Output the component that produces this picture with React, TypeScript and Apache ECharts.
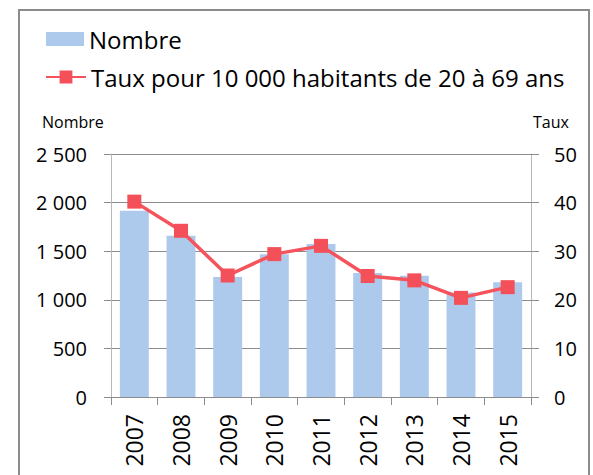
import React, { useEffect, useRef } from "react";
import * as echarts from "echarts";

const years = ["2007", "2008", "2009", "2010", "2011", "2012", "2013", "2014", "2015"];
const nombre = [1915, 1660, 1235, 1468, 1574, 1276, 1248, 1075, 1180];
const taux = [40.2, 34.2, 25.0, 29.4, 31.1, 24.9, 24.0, 20.4, 22.6];
const leftTicks = [0, 500, 1000, 1500, 2000, 2500];
const rightTicks = [0, 10, 20, 30, 40, 50];
const seriesNames = ["Nombre", "Taux pour 10 000 habitants de 20 à 69 ans"];
const axisNames = ["Nombre", "Taux"];

const FONT = "Open Sans";

function fmtThousands(v: number): string {
  const s = String(Math.round(v));
  return s.replace(/\B(?=(\d{3})+(?!\d))/g, " ");
}

export default function App() {
  const ref = useRef<HTMLDivElement>(null);
  useEffect(() => {
    if (!ref.current) return;
    const chart = echarts.init(ref.current, undefined, { renderer: "svg" });
    const legendText = {
      fontSize: 24,
      lineHeight: 26,
      color: "#000",
      fontFamily: FONT,
    };
    chart.setOption({
      animation: false,
      backgroundColor: "#ffffff",
      textStyle: { fontFamily: FONT },
      graphic: [
        {
          type: "rect",
          shape: { x: 19, y: 10, width: 570, height: 480 },
          style: { fill: "none", stroke: "#8c8c8c", lineWidth: 2 },
          z: 0,
        },
        {
          type: "text",
          left: 42,
          top: 114,
          style: { text: axisNames[0], fontSize: 16, fontFamily: FONT, fill: "#000" },
        },
        {
          type: "text",
          left: 533,
          top: 114,
          style: { text: axisNames[1], fontSize: 16, fontFamily: FONT, fill: "#000" },
        },
      ],
      legend: [
        {
          orient: "vertical",
          left: 46,
          top: 26,
          padding: 0,
          icon: "rect",
          itemWidth: 38,
          itemHeight: 14,
          itemGap: 6,
          textStyle: legendText,
          data: [seriesNames[0]],
        },
        {
          orient: "vertical",
          left: 45,
          top: 64,
          padding: 0,
          itemWidth: 40,
          itemHeight: 16,
          itemGap: 6,
          textStyle: legendText,
          data: [seriesNames[1]],
        },
      ],
      grid: {
        left: 111,
        right: 62,
        top: 154,
        bottom: 78,
        outerBoundsMode: "none",
        containLabel: false,
      },
      xAxis: {
        type: "category",
        data: years,
        boundaryGap: true,
        axisLine: { show: true, lineStyle: { color: "#8c8c8c", width: 1 } },
        axisTick: { show: true, alignWithLabel: false, length: 8, lineStyle: { color: "#8c8c8c" } },
        axisLabel: { rotate: 90, margin: 17, fontSize: 23, color: "#000", fontFamily: FONT },
        splitLine: { show: false },
      },
      yAxis: [
        {
          type: "value",
          min: leftTicks[0],
          max: leftTicks[leftTicks.length - 1],
          interval: 500,
          position: "left",
          axisLine: { show: true, lineStyle: { color: "#b8b8b8", width: 1 } },
          axisTick: { show: true, length: 7, lineStyle: { color: "#8c8c8c" } },
          axisLabel: {
            margin: 24,
            fontSize: 20,
            color: "#000",
            fontFamily: FONT,
            formatter: (v: number) => fmtThousands(v),
          },
          splitLine: { show: true, lineStyle: { color: "#8c8c8c", width: 1 } },
        },
        {
          type: "value",
          min: rightTicks[0],
          max: rightTicks[rightTicks.length - 1],
          interval: 10,
          position: "right",
          axisLine: { show: true, lineStyle: { color: "#b8b8b8", width: 1 } },
          axisTick: { show: true, length: 8, lineStyle: { color: "#8c8c8c" } },
          axisLabel: { margin: 23, fontSize: 20, color: "#000", fontFamily: FONT },
          splitLine: { show: false },
        },
      ],
      series: [
        {
          name: seriesNames[0],
          type: "bar",
          data: nombre,
          yAxisIndex: 0,
          barWidth: "62%",
          itemStyle: { color: "#adc9ec" },
          z: 2,
        },
        {
          name: seriesNames[1],
          type: "line",
          data: taux,
          yAxisIndex: 1,
          symbol: "rect",
          symbolSize: 14,
          lineStyle: { color: "#f5545c", width: 3.5 },
          itemStyle: { color: "#f4505a" },
          z: 3,
        },
      ],
    });
    return () => chart.dispose();
  }, []);
  return (
    <div
      ref={ref}
      style={{ position: "fixed", left: 0, top: 0, width: 593, height: 475 }}
    />
  );
}
